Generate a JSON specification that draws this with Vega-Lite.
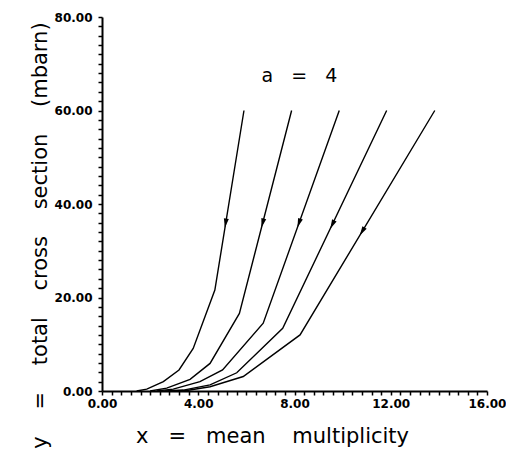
{
  "$schema": "https://vega.github.io/schema/vega-lite/v6.json",
  "width": 385,
  "height": 374,
  "autosize": {"type": "none"},
  "padding": {"left": 102, "top": 17, "right": 19, "bottom": 68},
  "background": "white",
  "config": {
    "view": {"stroke": null},
    "axis": {
      "grid": false,
      "labelColor": "black",
      "labelFont": "DejaVu Sans",
      "labelFontSize": 12,
      "labelFontWeight": "bold",
      "labelOverlap": false,
      "labelFlush": false,
      "titleColor": "black",
      "titleFont": "DejaVu Sans",
      "titleFontSize": 21,
      "titleFontWeight": "normal"
    }
  },
  "title": {
    "text": "a\u00a0\u00a0\u00a0=\u00a0\u00a0\u00a04",
    "font": "DejaVu Sans",
    "fontSize": 19,
    "fontWeight": "normal",
    "color": "black",
    "anchor": "middle",
    "offset": -90,
    "baseline": "alphabetic",
    "dx": 5
  },
  "datasets": {
    "curves": [
      {"curve": 1, "x": 1.44, "y": 0},
      {"curve": 1, "x": 1.86, "y": 0.4},
      {"curve": 1, "x": 2.55, "y": 2.0},
      {"curve": 1, "x": 3.2, "y": 4.5},
      {"curve": 1, "x": 3.79, "y": 9.1},
      {"curve": 1, "x": 4.69, "y": 21.6},
      {"curve": 1, "x": 5.9, "y": 60},
      {"curve": 2, "x": 2.0, "y": 0},
      {"curve": 2, "x": 2.69, "y": 0.6},
      {"curve": 2, "x": 3.66, "y": 2.5},
      {"curve": 2, "x": 4.49, "y": 5.9},
      {"curve": 2, "x": 5.71, "y": 16.6},
      {"curve": 2, "x": 7.88, "y": 60},
      {"curve": 3, "x": 2.27, "y": 0},
      {"curve": 3, "x": 2.96, "y": 0.4},
      {"curve": 3, "x": 4.07, "y": 2.0},
      {"curve": 3, "x": 5.01, "y": 4.5},
      {"curve": 3, "x": 6.7, "y": 14.5},
      {"curve": 3, "x": 9.86, "y": 60},
      {"curve": 4, "x": 2.6, "y": 0},
      {"curve": 4, "x": 3.38, "y": 0.2},
      {"curve": 4, "x": 4.49, "y": 1.3},
      {"curve": 4, "x": 5.6, "y": 3.9},
      {"curve": 4, "x": 7.51, "y": 13.4},
      {"curve": 4, "x": 11.83, "y": 60},
      {"curve": 5, "x": 2.8, "y": 0},
      {"curve": 5, "x": 3.52, "y": 0.1},
      {"curve": 5, "x": 4.49, "y": 0.9},
      {"curve": 5, "x": 5.87, "y": 3.1},
      {"curve": 5, "x": 8.23, "y": 12.0},
      {"curve": 5, "x": 13.83, "y": 60}
    ],
    "arrows": [
      {"curve": 1, "x": 5.14, "y": 36.0, "dir": 9.3},
      {"curve": 2, "x": 6.68, "y": 36.0, "dir": 14.8},
      {"curve": 3, "x": 8.19, "y": 36.0, "dir": 19.8},
      {"curve": 4, "x": 9.58, "y": 35.7, "dir": 25.7},
      {"curve": 5, "x": 10.82, "y": 34.2, "dir": 31.3}
    ]
  },
  "layer": [
    {
      "data": {"name": "curves"},
      "mark": {"type": "line", "color": "black", "strokeWidth": 1.4},
      "encoding": {
        "x": {
          "field": "x",
          "type": "quantitative",
          "scale": {"domain": [0, 16], "nice": false, "zero": false},
          "axis": {
            "values": [0, 0.4, 0.8, 1.2, 1.6, 2, 2.4, 2.8, 3.2, 3.6, 4, 4.4, 4.8, 5.2, 5.6, 6, 6.4, 6.8, 7.2, 7.6, 8, 8.4, 8.8, 9.2, 9.6, 10, 10.4, 10.8, 11.2, 11.6, 12, 12.4, 12.8, 13.2, 13.6, 14, 14.4, 14.8, 15.2, 15.6, 16],
            "tickCount": 100,
            "labelExpr": "datum.value % 4 == 0 ? format(datum.value, '.2f') : ''",
            "labelOverlap": false,
            "labelFlush": false,
            "domain": true,
            "domainColor": "#000000",
            "domainWidth": 2,
            "domainOpacity": 1,
            "ticks": true,
            "tickColor": "#000000",
            "tickOpacity": 1,
            "tickWidth": 1.5,
            "tickSize": 4,
            "labelPadding": 3,
            "title": "x\u00a0\u00a0\u00a0=\u00a0\u00a0\u00a0mean\u00a0\u00a0\u00a0\u00a0multiplicity",
            "titleX": 170,
            "titleY": 51,
            "titleBaseline": "alphabetic",
            "titleAlign": "center"
          }
        },
        "y": {
          "field": "y",
          "type": "quantitative",
          "scale": {"domain": [0, 80], "nice": false},
          "axis": {
            "values": [0, 2, 4, 6, 8, 10, 12, 14, 16, 18, 20, 22, 24, 26, 28, 30, 32, 34, 36, 38, 40, 42, 44, 46, 48, 50, 52, 54, 56, 58, 60, 62, 64, 66, 68, 70, 72, 74, 76, 78, 80],
            "tickCount": 100,
            "labelExpr": "datum.value % 20 == 0 ? format(datum.value, '.2f') : ''",
            "labelOverlap": false,
            "domain": true,
            "domainColor": "#000000",
            "domainWidth": 2,
            "domainOpacity": 1,
            "ticks": true,
            "tickColor": "#000000",
            "tickOpacity": 1,
            "tickWidth": 1.5,
            "tickSize": 4,
            "labelPadding": 6,
            "title": "y\u00a0\u00a0\u00a0\u00a0=\u00a0\u00a0\u00a0\u00a0total\u00a0\u00a0\u00a0\u00a0cross\u00a0\u00a0\u00a0\u00a0section\u00a0\u00a0\u00a0\u00a0(mbarn)",
            "titleAngle": -90,
            "titleX": -62,
            "titleY": 218,
            "titleAlign": "center",
            "titleBaseline": "middle"
          }
        },
        "detail": {"field": "curve", "type": "nominal"}
      }
    },
    {
      "data": {"name": "arrows"},
      "mark": {"type": "point", "shape": "M0,1.2L-0.6,-1L0.6,-1Z", "filled": true, "color": "black", "opacity": 1, "size": 70},
      "encoding": {
        "x": {"field": "x", "type": "quantitative"},
        "y": {"field": "y", "type": "quantitative"},
        "angle": {"field": "dir", "type": "quantitative", "scale": null}
      }
    },
    {
      "mark": {"type": "rule", "color": "black", "strokeWidth": 2},
      "encoding": {
        "x": {"datum": 0, "type": "quantitative"},
        "y": {"datum": 0, "type": "quantitative"},
        "y2": {"datum": 80}
      }
    },
    {
      "mark": {"type": "rule", "color": "black", "strokeWidth": 2},
      "encoding": {
        "x": {"datum": 0, "type": "quantitative"},
        "x2": {"datum": 16},
        "y": {"datum": 0, "type": "quantitative"}
      }
    }
  ]
}
